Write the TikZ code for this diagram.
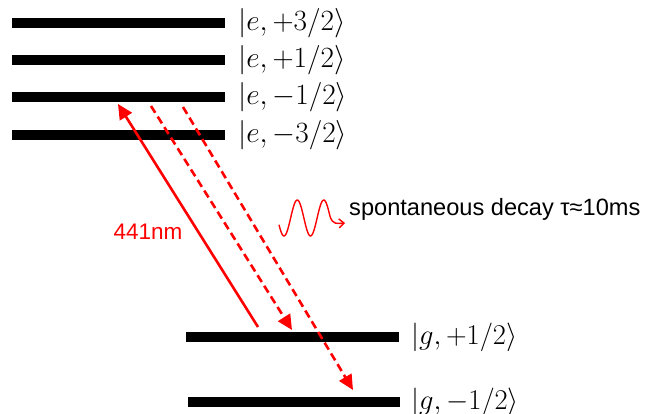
\RequirePackage{fix-cm}
\documentclass[tikz,border=0pt]{standalone}
\usepackage{fontspec}
\usetikzlibrary{arrows.meta}
\newfontfamily\arialfont{Liberation Sans}
\begin{document}
\begin{tikzpicture}[x=1pt,y=1pt,
  level/.style={line width=9.5pt},
  lab/.style={anchor=west,inner sep=0pt,font=\fontsize{24.88}{30}\selectfont},
  laser/.style={red,line width=2.6pt,-{Triangle[length=15pt,width=14pt]}},
  decay/.style={laser,dash pattern=on 8pt off 4.5pt},
  wave/.style={red,line width=1.4pt},
  txt/.style={inner sep=0pt,font=\arialfont\fontsize{22.5}{27}\selectfont}]
\useasboundingbox (0,0) rectangle (652,414);
% excited levels
\coordinate (e32L) at (12,391); \coordinate (e32R) at (225,391);
\coordinate (e12L) at (12,354); \coordinate (e12R) at (225,354);
\coordinate (em12L) at (12,317); \coordinate (em12R) at (225,317);
\coordinate (em32L) at (12,279); \coordinate (em32R) at (225,279);
\draw[level] (e32L) -- (e32R);
\draw[level] (e12L) -- (e12R);
\draw[level] (em12L) -- (em12R);
\draw[level] (em32L) -- (em32R);
\node[lab] (le32) at (238,391) {\scalebox{1.18}{$|e,+3/2\rangle$}};
\node[lab] (le12) at (238,354) {\scalebox{1.18}{$|e,+1/2\rangle$}};
\node[lab] (lem12) at (238,317) {\scalebox{1.18}{$|e,-1/2\rangle$}};
\node[lab] (lem32) at (238,279) {\scalebox{1.18}{$|e,-3/2\rangle$}};
% ground levels
\coordinate (gpL) at (186,77); \coordinate (gpR) at (399,77);
\coordinate (gmL) at (188,12); \coordinate (gmR) at (400,12);
\draw[level] (gpL) -- (gpR);
\draw[level] (gmL) -- (gmR);
\node[lab] (lgp) at (411,77) {\scalebox{1.15}{$|g,+1/2\rangle$}};
\node[lab] (lgm) at (411,12) {\scalebox{1.15}{$|g,-1/2\rangle$}};
% transitions
\coordinate (s0) at (258,87); \coordinate (s1) at (118,310);
\coordinate (d10) at (151,308); \coordinate (d11) at (292,84);
\coordinate (d20) at (183,307); \coordinate (d21) at (353,24);
\draw[laser] (s0) -- (s1);
\draw[decay] (d10) -- (d11);
\draw[decay] (d20) -- (d21);
\node[txt,red] (nm) at (148,182) {441nm};
% photon wave
\coordinate (wend) at (345,191);
\draw[wave,-{Straight Barb[length=5pt,width=9pt]}]
  plot[domain=279:330,samples=80,smooth] (\x,{196-18*cos((\x-284)*13.585)})
  .. controls (333,189) and (337,190.5) .. (wend);
\node[txt,anchor=west,font=\arialfont\fontsize{23.6}{28}\selectfont] (sd) at (349,205) {spontaneous decay τ≈10ms};
\end{tikzpicture}
\end{document}
